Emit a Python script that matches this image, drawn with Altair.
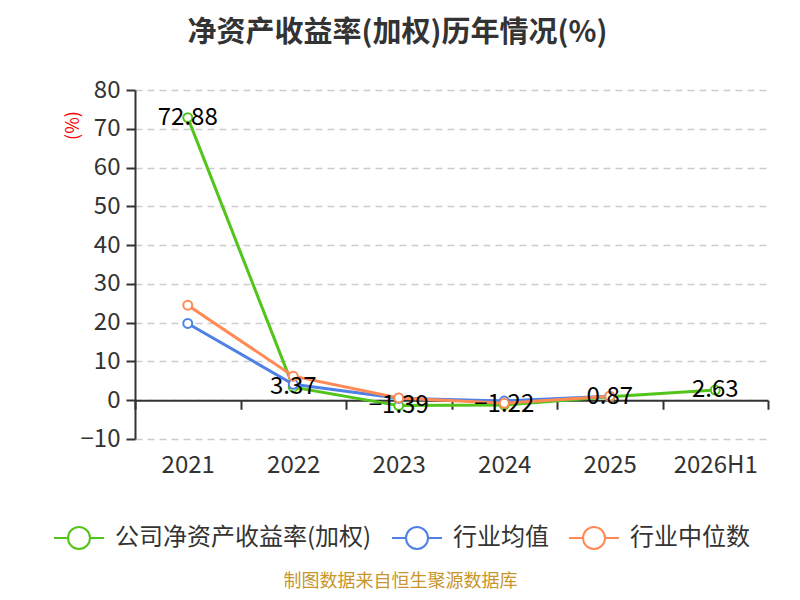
import altair as alt
import pandas as pd

years = ["2021", "2022", "2023", "2024", "2025", "2026H1"]
company = [72.88, 3.37, -1.39, -1.22, 0.87, 2.63]
ind_avg = [19.8, 4.1, 0.5, -0.2, 1.0, None]
ind_med = [24.5, 6.2, 0.6, -0.8, 1.0, None]
series_names = ["公司净资产收益率(加权)", "行业均值", "行业中位数"]
colors = ["#52c41a", "#4e80e6", "#ff8a55"]
y_ticks = [-10, 0, 10, 20, 30, 40, 50, 60, 70, 80]

rows = []
for name, vals in zip(series_names, [company, ind_avg, ind_med]):
    for yr, v in zip(years, vals):
        if v is not None:
            rows.append({"year": yr, "series": name, "value": v})
df = pd.DataFrame(rows)

W, H = 633, 349
FONT = "Noto Sans CJK SC"

legend_path = ("M-1,0L-0.44,0M0.44,0L1,0"
               "M-0.44,0A0.44,0.44,0,1,1,0.44,0A0.44,0.44,0,1,1,-0.44,0")

x_enc = alt.X(
    "year:N", sort=years,
    scale=alt.Scale(type="band", paddingInner=0, paddingOuter=0),
    axis=alt.Axis(
        title="制图数据来自恒生聚源数据库", offset=-H / 9, tickBand="extent",
        domainColor="#333333", domainWidth=2, tickColor="#333333", tickWidth=2,
        tickSize=9, labelPadding=56, labelBaseline="middle", labelFontSize=24,
        labelColor="#333333", labelAngle=0, grid=False,
        titleX=265, titleY=181, titleColor="#c8952b", titleFontSize=18,
        titleFontWeight="normal", titleAlign="center", titleBaseline="middle",
    ),
)
y_enc = alt.Y(
    "value:Q",
    scale=alt.Scale(domain=[-10, 80], nice=False, zero=False),
    axis=alt.Axis(
        values=y_ticks, title="(%)", titleColor="#ff0000", titleFontSize=18,
        titleFontWeight="normal", titleAngle=270, titleX=-62, titleY=35,
        titleAlign="center", titleBaseline="middle", labelFontSize=24,
        labelColor="#333333", labelPadding=6, tickSize=9, tickColor="#333333",
        tickWidth=2, domainColor="#333333", domainWidth=2, gridDash=[7, 5],
        gridColor="#cccccc", gridWidth=1.5,
    ),
)
stroke_enc = alt.Stroke(
    "series:N",
    scale=alt.Scale(domain=series_names, range=colors),
    legend=alt.Legend(
        title=None, orient="none", legendX=-82, legendY=422,
        direction="horizontal", columns=3, symbolType=legend_path,
        symbolSize=2500, symbolStrokeWidth=2, symbolFillColor="white",
        labelFontSize=24, labelColor="#333333", labelOffset=10, labelLimit=0,
        columnPadding=16, padding=0,
    ),
)

base = alt.Chart(df).encode(x=x_enc, y=y_enc)

lines = base.mark_line(strokeWidth=3).encode(stroke=stroke_enc)
points = base.mark_point(filled=True, fill="white", size=80, strokeWidth=2, opacity=1).encode(
    stroke=alt.Stroke("series:N", scale=alt.Scale(domain=series_names, range=colors))
)
labels = base.transform_filter(
    alt.datum.series == series_names[0]
).mark_text(fontSize=24, color="black", align="center", baseline="middle").encode(
    text=alt.Text("value:Q", format=".2f")
)

chart = alt.layer(lines, points, labels).properties(
    width=W, height=H,
    title=alt.Title("净资产收益率(加权)历年情况(%)", fontSize=29, fontWeight="bold",
                    color="#333333", anchor="middle", frame="group", dx=-54, offset=30),
    autosize=alt.AutoSizeParams(type="none"),
    padding={"left": 127, "top": 82, "right": 24, "bottom": 153},
).configure(font=FONT).configure_view(stroke=None)

chart.save("out.html", embed_options={"renderer": "svg", "actions": False})
